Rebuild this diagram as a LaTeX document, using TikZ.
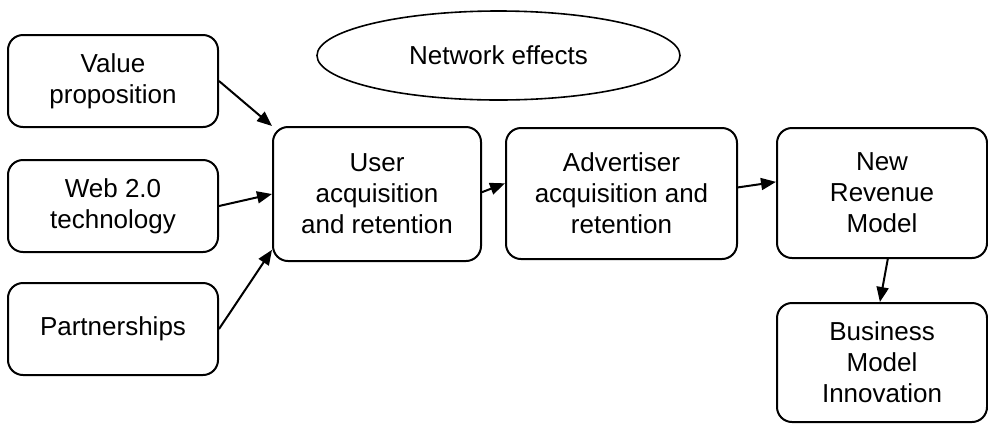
\documentclass[tikz,border=0pt]{standalone}
\usepackage{fontspec}
\setmainfont{Liberation Sans}
\usetikzlibrary{arrows.meta,shapes.geometric}

\begin{document}
\begin{tikzpicture}[x=0.5pt,y=-0.5pt,
        box/.style={draw, rounded corners=7.5pt, line width=1pt, align=center, inner sep=0pt,
            font=\fontsize{13}{15.5}\selectfont},
        link/.style={-{Triangle[length=7.5pt,width=6pt]}, line width=1pt}]
        \useasboundingbox (0,0) rectangle (988,424);
        % drivers on the left
        \node[box, minimum width=105pt, minimum height=46pt] (value) at (113,81) {Value\\proposition};
        \node[box, minimum width=105pt, minimum height=46pt] (web) at (113,206) {Web 2.0\\technology};
        \node[box, minimum width=105pt, minimum height=46pt] (partner) at (113,329) {Partnerships};
        % main chain
        \node[box, minimum width=104pt, minimum height=67pt] (user) at (377,194) {User\\acquisition\\and retention};
        \node[box, minimum width=115.5pt, minimum height=65.5pt] (advert) at (621.5,193.5) {Advertiser\\acquisition and\\retention};
        \node[box, minimum width=105pt, minimum height=65pt] (revenue) at (882,193) {New\\Revenue\\Model};
        \node[box, minimum width=105pt, minimum height=59.5pt] (innov) at (882,362.5) {Business\\Model\\Innovation};
        \node[draw, ellipse, line width=0.8pt, inner sep=0pt, minimum width=181.5pt, minimum height=44.5pt,
            font=\fontsize{13}{15.5}\selectfont] (network) at (498.5,55.5) {Network effects};

        \draw[link] (value.east) -- (user.north west);
        \draw[link] (web.east) -- (user.west);
        \draw[link] (partner.east) -- (user.208);
        \draw[link] (user.1) -- (advert.175);
        \draw[link] (advert.3) -- (revenue.174);
        \draw[link] (revenue.-85) -- (innov.92);
    \end{tikzpicture}
\end{document}
